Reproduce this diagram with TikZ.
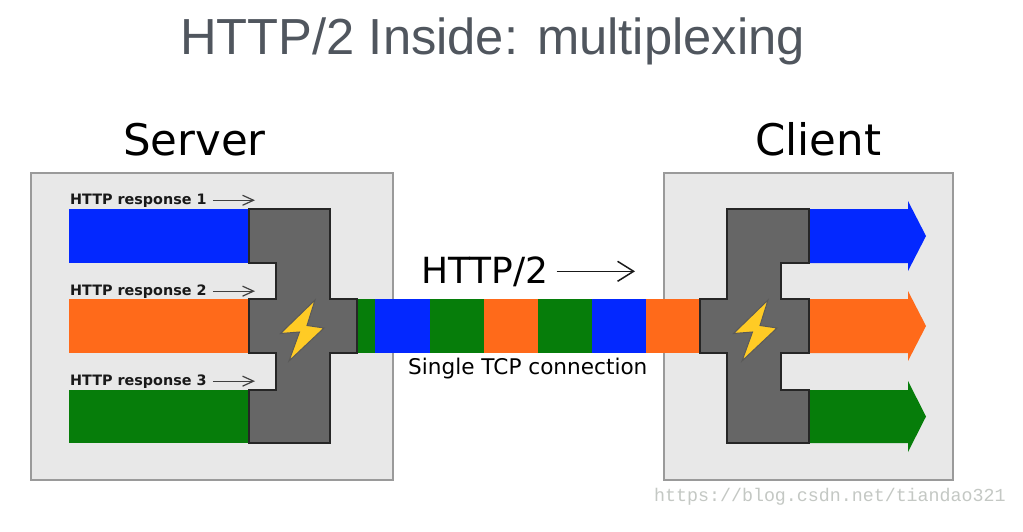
\documentclass[tikz,border=0pt]{standalone}
\usepackage{fontspec}
\setmainfont{DejaVu Sans}
\newfontfamily\titlefont{Liberation Sans}
\newfontfamily\wmfont{Liberation Mono}
\usetikzlibrary{arrows.meta}
\definecolor{bluebar}{HTML}{0328FF}
\definecolor{orangebar}{HTML}{FF6A1A}
\definecolor{greenbar}{HTML}{067D0A}
\definecolor{panel}{HTML}{E8E8E8}
\definecolor{panelline}{HTML}{9A9A9A}
\definecolor{mux}{HTML}{666666}
\definecolor{bolt}{HTML}{FFCB25}
\definecolor{titlecol}{HTML}{50565E}
\definecolor{wm}{HTML}{C4C8C4}
\tikzset{
  x=1pt,y=-1pt,
  panelbox/.style={draw=panelline,fill=panel,line width=1.4pt},
  muxshape/.style={draw=black!85,fill=mux,line width=1.3pt,line join=miter},
  boltshape/.style={draw=black!65,fill=bolt,line width=1pt,line join=miter},
  lab/.style={inner sep=0pt,anchor=base west},
  resp/.style={lab,font=\bfseries\fontsize{14.35}{16}\selectfont,text=black!90},
  small/.style={-{Straight Barb[length=11pt,width=10pt]},line width=1.2pt,black!75},
  big/.style={-{Straight Barb[length=16pt,width=20pt]},line width=1.5pt,black!90},
}
\begin{document}
\begin{tikzpicture}
\useasboundingbox (0,0) rectangle (1023,531);
\fill[white] (0,0) rectangle (1023,531);
% title
\node[lab,font=\titlefont\fontsize{50.7}{54}\selectfont,text=titlecol] (title) at (180,54) {HTTP/2 Inside: multiplexing};
\node[lab,font=\fontsize{43.5}{46}\selectfont] (server) at (123,155) {Server};
\node[lab,font=\fontsize{43.5}{46}\selectfont] (client) at (755,155) {Client};
% panels
\draw[panelbox] (31,173) rectangle (393,480);
\draw[panelbox] (664,173) rectangle (953,480);
% server bars
\fill[bluebar] (68.5,209) rectangle (249,263);
\fill[orangebar] (68.5,299) rectangle (249,353);
\fill[greenbar] (68.5,390) rectangle (249,443);
% connection
\fill[greenbar] (357,299) rectangle (375,353);
\fill[bluebar] (375,299) rectangle (430,353);
\fill[greenbar] (430,299) rectangle (484,353);
\fill[orangebar] (484,299) rectangle (538,353);
\fill[greenbar] (538,299) rectangle (592,353);
\fill[bluebar] (592,299) rectangle (646,353);
\fill[orangebar] (646,299) rectangle (700,353);
% client arrows
\fill[bluebar] (809,209) -- (908,209) -- (908,201) -- (926,236) -- (908,271) -- (908,263) -- (809,263) -- cycle;
\fill[orangebar] (809,299) -- (908,299) -- (908,291) -- (926,326) -- (908,361) -- (908,353) -- (809,353) -- cycle;
\fill[greenbar] (809,390) -- (908,390) -- (908,381) -- (926,416.5) -- (908,452) -- (908,443) -- (809,443) -- cycle;
% multiplexers
\draw[muxshape] (249,209) -- (330,209) -- (330,299) -- (357,299) -- (357,353) -- (330,353) -- (330,443) -- (249,443) -- (249,390) -- (276,390) -- (276,353) -- (249,353) -- (249,299) -- (276,299) -- (276,263) -- (249,263) -- cycle;
\draw[muxshape] (809,209) -- (727,209) -- (727,299) -- (700,299) -- (700,353) -- (727,353) -- (727,443) -- (809,443) -- (809,390) -- (781,390) -- (781,353) -- (809,353) -- (809,299) -- (781,299) -- (781,263) -- (809,263) -- cycle;
% bolts
\draw[boltshape] (315,300) -- (280.5,333.5) -- (299.5,332) -- (289,361) -- (324,328) -- (307,325.5) -- cycle;
\draw[boltshape,xshift=453pt] (315,300) -- (280.5,333.5) -- (299.5,332) -- (289,361) -- (324,328) -- (307,325.5) -- cycle;
% labels
\node[resp] (r1) at (70,204) {HTTP response 1};
\node[resp] (r2) at (70,295) {HTTP response 2};
\node[resp] (r3) at (70,385) {HTTP response 3};
\coordinate (e1) at (255,199);
\coordinate (e2) at (255,290);
\coordinate (e3) at (255,380);
\draw[small] (r1.east) ++(6,0) coordinate (s1) (s1) -- (s1 -| e1);
\draw[small] (r2.east) ++(6,0) coordinate (s2) (s2) -- (s2 -| e2);
\draw[small] (r3.east) ++(6,0) coordinate (s3) (s3) -- (s3 -| e3);
\node[lab,font=\fontsize{36}{38}\selectfont] (h2) at (421,283) {HTTP/2};
\coordinate (e4) at (635,272);
\draw[big] (h2.east) ++(8,0) coordinate (s4) (s4) -- (s4 -| e4);
\node[lab,font=\fontsize{21.6}{24}\selectfont] (tcp) at (408,374) {Single TCP connection};
\node[lab,font=\wmfont\fontsize{18.3}{20}\selectfont,text=wm] (wmark) at (654,501) {https://blog.csdn.net/tiandao321};
\end{tikzpicture}
\end{document}
